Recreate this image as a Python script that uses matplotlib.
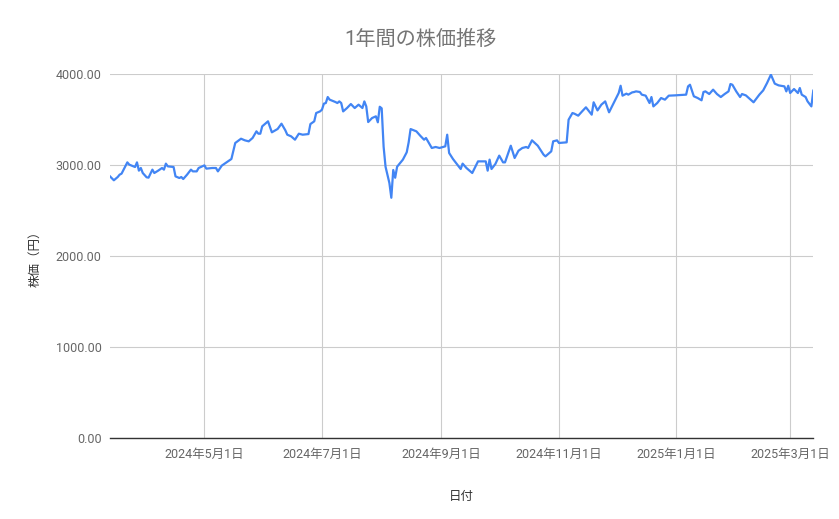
import matplotlib
matplotlib.use("Agg")
import matplotlib.pyplot as plt
import matplotlib.dates as mdates
import pandas as pd

dates = [
    "2024-03-13", "2024-03-15", "2024-03-17", "2024-03-18", "2024-03-19", "2024-03-22", "2024-03-23",
    "2024-03-26", "2024-03-27", "2024-03-28", "2024-03-29", "2024-03-30", "2024-04-01", "2024-04-02",
    "2024-04-04", "2024-04-05", "2024-04-07", "2024-04-09", "2024-04-10", "2024-04-11", "2024-04-12",
    "2024-04-15", "2024-04-16", "2024-04-18", "2024-04-19", "2024-04-20", "2024-04-22", "2024-04-24",
    "2024-04-25", "2024-04-27", "2024-04-28", "2024-05-01", "2024-05-02", "2024-05-05", "2024-05-07",
    "2024-05-08", "2024-05-10", "2024-05-12", "2024-05-15", "2024-05-17", "2024-05-20", "2024-05-22",
    "2024-05-24", "2024-05-26", "2024-05-28", "2024-05-29", "2024-05-30", "2024-05-31", "2024-06-03",
    "2024-06-05", "2024-06-08", "2024-06-10", "2024-06-12", "2024-06-13", "2024-06-15", "2024-06-17",
    "2024-06-19", "2024-06-21", "2024-06-24", "2024-06-25", "2024-06-27", "2024-06-28", "2024-06-30",
    "2024-07-01", "2024-07-02", "2024-07-03", "2024-07-04", "2024-07-05", "2024-07-08", "2024-07-09",
    "2024-07-10", "2024-07-11", "2024-07-12", "2024-07-14", "2024-07-16", "2024-07-18", "2024-07-20",
    "2024-07-22", "2024-07-23", "2024-07-24", "2024-07-25", "2024-07-27", "2024-07-29", "2024-07-30",
    "2024-07-31", "2024-08-01", "2024-08-02", "2024-08-03", "2024-08-05", "2024-08-06", "2024-08-07",
    "2024-08-08", "2024-08-09", "2024-08-12", "2024-08-14", "2024-08-15", "2024-08-16", "2024-08-19",
    "2024-08-21", "2024-08-23", "2024-08-24", "2024-08-27", "2024-08-29", "2024-08-31", "2024-09-03",
    "2024-09-04", "2024-09-05", "2024-09-07", "2024-09-09", "2024-09-11", "2024-09-12", "2024-09-14",
    "2024-09-17", "2024-09-20", "2024-09-24", "2024-09-25", "2024-09-26", "2024-09-27", "2024-09-29",
    "2024-10-01", "2024-10-03", "2024-10-04", "2024-10-07", "2024-10-09", "2024-10-11", "2024-10-13",
    "2024-10-15", "2024-10-16", "2024-10-18", "2024-10-21", "2024-10-24", "2024-10-25", "2024-10-28",
    "2024-10-29", "2024-10-31", "2024-11-01", "2024-11-05", "2024-11-06", "2024-11-08", "2024-11-09",
    "2024-11-11", "2024-11-13", "2024-11-15", "2024-11-18", "2024-11-19", "2024-11-21", "2024-11-23",
    "2024-11-25", "2024-11-27", "2024-11-29", "2024-12-02", "2024-12-03", "2024-12-04", "2024-12-06",
    "2024-12-07", "2024-12-09", "2024-12-10", "2024-12-11", "2024-12-13", "2024-12-14", "2024-12-16",
    "2024-12-18", "2024-12-19", "2024-12-20", "2024-12-22", "2024-12-24", "2024-12-26", "2024-12-28",
    "2024-12-31", "2025-01-06", "2025-01-07", "2025-01-08", "2025-01-10", "2025-01-12", "2025-01-14",
    "2025-01-15", "2025-01-16", "2025-01-18", "2025-01-20", "2025-01-22", "2025-01-24", "2025-01-26",
    "2025-01-28", "2025-01-29", "2025-01-30", "2025-02-01", "2025-02-03", "2025-02-04", "2025-02-06",
    "2025-02-10", "2025-02-13", "2025-02-15", "2025-02-17", "2025-02-19", "2025-02-21", "2025-02-23",
    "2025-02-26", "2025-02-27", "2025-02-28", "2025-03-01", "2025-03-03", "2025-03-05", "2025-03-06",
    "2025-03-07", "2025-03-09", "2025-03-10", "2025-03-12", "2025-03-13",
]

prices = [
    2875, 2832, 2868, 2894, 2905, 3029, 3004,
    2978, 3029, 2938, 2967, 2912, 2865, 2861,
    2949, 2912, 2938, 2967, 2949, 3015, 2985,
    2978, 2875, 2857, 2868, 2846, 2894, 2949,
    2930, 2930, 2967, 2996, 2960, 2967, 2967,
    2930, 2993, 3022, 3066, 3242, 3289, 3271,
    3260, 3297, 3370, 3344, 3344, 3425, 3480,
    3359, 3396, 3454, 3381, 3333, 3315, 3278,
    3344, 3333, 3340, 3450, 3480, 3571, 3589,
    3608, 3674, 3681, 3747, 3718, 3692, 3681,
    3699, 3681, 3589, 3626, 3670, 3626, 3663,
    3626, 3699, 3644, 3472, 3516, 3535, 3469,
    3640, 3623, 3201, 2981, 2802, 2640, 2945,
    2860, 2981, 3059, 3140, 3249, 3395, 3370,
    3322, 3278, 3297, 3187, 3198, 3187, 3205,
    3333, 3132, 3066, 3011, 2956, 3015, 2967,
    2912, 3040, 3040, 2938, 3059, 2956, 3011,
    3103, 3029, 3029, 3212, 3077, 3157, 3187,
    3198, 3187, 3271, 3212, 3114, 3095, 3150,
    3260, 3271, 3242, 3249, 3498, 3571, 3564,
    3542, 3589, 3634, 3553, 3689, 3600, 3663,
    3699, 3579, 3663, 3791, 3871, 3762, 3784,
    3773, 3798, 3802, 3809, 3802, 3773, 3762,
    3681, 3747, 3644, 3681, 3736, 3718, 3762,
    3765, 3773, 3864, 3882, 3755, 3736, 3711,
    3802, 3809, 3780, 3828, 3780, 3747, 3780,
    3809, 3890, 3882, 3809, 3747, 3780, 3765,
    3689, 3773, 3820, 3901, 3993, 3894, 3875,
    3864, 3809, 3871, 3791, 3835, 3791, 3846,
    3773, 3747, 3700, 3644, 3817,
]

tick_dates = ["2024-05-01", "2024-07-01", "2024-09-01", "2024-11-01", "2025-01-01", "2025-03-01"]
tick_labels = ["2024年5月1日", "2024年7月1日", "2024年9月1日", "2024年11月1日", "2025年1月1日", "2025年3月1日"]
y_ticks = [0, 1000, 2000, 3000, 4000]

title = "1年間の株価推移"
x_label = "日付"
y_label = "株価（円）"

FONT = ["Roboto", "Noto Sans CJK JP", "DejaVu Sans"]
plt.rcParams["font.family"] = FONT

x = pd.to_datetime(dates)
xt = pd.to_datetime(tick_dates)

fig = plt.figure(figsize=(8.39, 5.19), dpi=100)
ax = fig.add_axes([110 / 839, 1 - 438 / 519, (813.3 - 110) / 839, (438 - 74) / 519])

ax.plot(x, prices, color="#4285F4", linewidth=1.6, solid_joinstyle="round", zorder=3)

ax.set_xlim(pd.Timestamp("2024-03-13"), pd.Timestamp("2025-03-13"))
ax.set_ylim(0, 4000)
ax.set_yticks(y_ticks)
ax.set_yticklabels([f"{v:.2f}" for v in y_ticks])
ax.set_xticks(xt)
ax.set_xticklabels(tick_labels)

ax.grid(True, color="#cccccc", linewidth=0.8, zorder=0)
for s in ["top", "right", "left"]:
    ax.spines[s].set_visible(False)
ax.spines["bottom"].set_color("#333333")
ax.spines["bottom"].set_linewidth(1.0)
ax.spines["bottom"].set_zorder(4)

ax.tick_params(axis="both", length=0, labelsize=9, labelcolor="#666666")
ax.tick_params(axis="y", pad=6)
ax.tick_params(axis="x", pad=7)

fig.text(420 / 839, 1 - 39 / 519, title, ha="center", va="center",
         fontsize=14.5, color="#757575", family=FONT)
ax.set_xlabel(x_label, fontsize=9, color="#333333", labelpad=21)
fig.text(35 / 839, 1 - 256 / 519, y_label, rotation=90, ha="center", va="center",
         fontsize=9, color="#333333", family=FONT)

fig.savefig("out.png", dpi=100)
